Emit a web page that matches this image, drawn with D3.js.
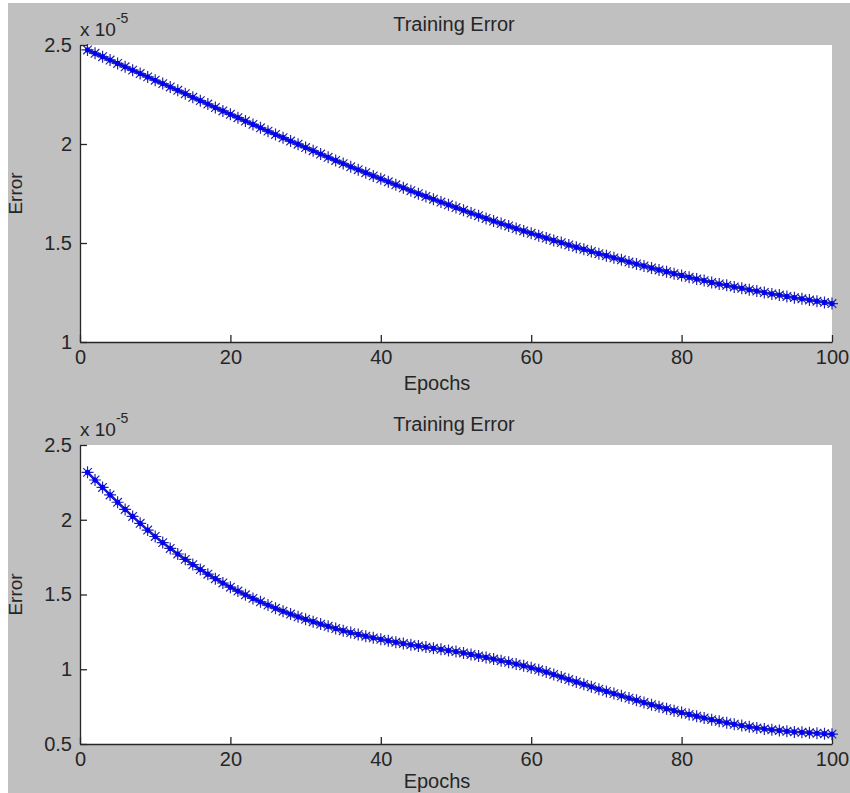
<!DOCTYPE html>
<meta charset="utf-8">
<title>Training Error</title>
<style>
html, body { margin: 0; padding: 0; background: #fff; }
svg { display: block; }
text { font-family: "Liberation Sans", Arial, sans-serif; fill: #262626; }
.axis path, .axis line { stroke: #262626; stroke-width: 1.3; }
.axis text { font-size: 20px; font-family: "Liberation Sans", Arial, sans-serif; fill: #262626; }
</style>
<body>
<svg width="850" height="793"></svg>
<script src="https://cdn.jsdelivr.net/npm/d3@7"></script>
<script>

var epochs = [1,2,3,4,5,6,7,8,9,10,11,12,13,14,15,16,17,18,19,20,
  21,22,23,24,25,26,27,28,29,30,31,32,33,34,35,36,37,38,39,40,
  41,42,43,44,45,46,47,48,49,50,51,52,53,54,55,56,57,58,59,60,
  61,62,63,64,65,66,67,68,69,70,71,72,73,74,75,76,77,78,79,80,
  81,82,83,84,85,86,87,88,89,90,91,92,93,94,95,96,97,98,99,100];

// error values, units of 1e-5
var errorTop = [2.475,2.458,2.441,2.424,2.407,2.390,2.373,2.356,2.339,2.322,
  2.305,2.288,2.271,2.254,2.236,2.219,2.202,2.184,2.167,2.150,
  2.133,2.116,2.099,2.082,2.065,2.048,2.032,2.015,1.999,1.982,
  1.966,1.949,1.933,1.917,1.901,1.885,1.870,1.855,1.839,1.824,
  1.809,1.794,1.779,1.764,1.749,1.735,1.721,1.707,1.693,1.679,
  1.665,1.651,1.638,1.624,1.611,1.598,1.586,1.573,1.561,1.549,
  1.537,1.525,1.513,1.502,1.490,1.479,1.468,1.457,1.446,1.436,
  1.425,1.415,1.404,1.394,1.384,1.374,1.364,1.355,1.345,1.336,
  1.327,1.318,1.310,1.301,1.293,1.286,1.278,1.271,1.264,1.257,
  1.250,1.243,1.237,1.230,1.224,1.218,1.212,1.206,1.200,1.194];

var errorBottom = [2.317,2.266,2.216,2.166,2.117,2.069,2.022,1.976,1.931,1.888,
  1.847,1.808,1.771,1.735,1.700,1.667,1.636,1.606,1.577,1.549,
  1.523,1.498,1.474,1.451,1.429,1.408,1.388,1.369,1.351,1.334,
  1.318,1.302,1.287,1.272,1.258,1.245,1.233,1.221,1.210,1.200,
  1.190,1.181,1.172,1.164,1.156,1.148,1.140,1.133,1.125,1.118,
  1.109,1.099,1.089,1.079,1.068,1.057,1.046,1.035,1.023,1.010,
  0.996,0.981,0.965,0.948,0.931,0.915,0.899,0.883,0.867,0.852,
  0.837,0.822,0.807,0.792,0.777,0.763,0.749,0.736,0.723,0.710,
  0.698,0.686,0.674,0.663,0.652,0.642,0.632,0.623,0.615,0.607,
  0.601,0.595,0.590,0.585,0.581,0.578,0.575,0.572,0.569,0.566];

var xTicks = [0, 20, 40, 60, 80, 100];
var yTicksTop = [1, 1.5, 2, 2.5];
var yTicksBottom = [0.5, 1, 1.5, 2, 2.5];

var svg = d3.select("svg");

// figure background
svg.append("rect")
    .attr("x", 8).attr("y", 3)
    .attr("width", 842).attr("height", 790)
    .attr("fill", "#c0c0c0");

drawPanel({ top: 45, bottom: 342, yDomain: [1, 2.5], yTicks: yTicksTop, values: errorTop, labelDy: 48 });
drawPanel({ top: 445, bottom: 744, yDomain: [0.5, 2.5], yTicks: yTicksBottom, values: errorBottom, labelDy: 44 });

function drawPanel(p) {
  var left = 80, right = 832;

  var x = d3.scaleLinear().domain([0, 100]).range([left, right]);
  var y = d3.scaleLinear().domain(p.yDomain).range([p.bottom, p.top]);

  var g = svg.append("g");

  g.append("rect")
      .attr("x", left).attr("y", p.top)
      .attr("width", right - left).attr("height", p.bottom - p.top)
      .attr("fill", "#fff");

  var pts = epochs.map(function(e, i) { return [x(e), y(p.values[i])]; });

  g.append("path")
      .attr("d", d3.line()(pts))
      .attr("fill", "none")
      .attr("stroke", "#0000ff")
      .attr("stroke-width", 2.5);

  // asterisk markers
  var s = 6, d = 4.3;
  var star = "M" + (-s) + ",0H" + s + "M0," + (-s) + "V" + s +
             "M" + (-d) + "," + (-d) + "L" + d + "," + d +
             "M" + (-d) + "," + d + "L" + d + "," + (-d);

  var mk = g.append("g").selectAll("g")
    .data(pts)
    .enter().append("g")
      .attr("transform", function(d) { return "translate(" + d[0] + "," + d[1] + ")"; });

  mk.append("path")
      .attr("d", star)
      .attr("stroke", "#2525a5")
      .attr("stroke-width", 1.2)
      .attr("fill", "none");

  mk.append("circle")
      .attr("r", 2.6)
      .attr("fill", "#0000ff");

  g.append("g")
      .attr("class", "axis")
      .attr("transform", "translate(0," + p.bottom + ")")
      .call(d3.axisBottom(x).tickValues(xTicks).tickSize(-7).tickSizeOuter(0).tickPadding(8)
        .tickFormat(d3.format("d")));

  g.append("g")
      .attr("class", "axis")
      .attr("transform", "translate(" + left + ",0)")
      .call(d3.axisLeft(y).tickValues(p.yTicks).tickSize(-7).tickSizeOuter(0).tickPadding(8)
        .tickFormat(function(v) { return String(v); }));

  // title
  g.append("text")
      .attr("x", 454).attr("y", p.top - 14)
      .attr("text-anchor", "middle")
      .attr("font-size", 20)
      .text("Training Error");

  // exponent label
  var ex = g.append("text")
      .attr("x", 80).attr("y", p.top - 9)
      .attr("font-size", 19)
      .text("x 10");
  ex.append("tspan")
      .attr("dy", -13)
      .attr("font-size", 14)
      .text("-5");

  // axis labels
  g.append("text")
      .attr("x", 437).attr("y", p.bottom + p.labelDy)
      .attr("text-anchor", "middle")
      .attr("font-size", 20)
      .text("Epochs");

  g.append("text")
      .attr("transform", "translate(22," + ((p.top + p.bottom) / 2) + ") rotate(-90)")
      .attr("text-anchor", "middle")
      .attr("font-size", 19)
      .text("Error");
}
</script>
</body>
